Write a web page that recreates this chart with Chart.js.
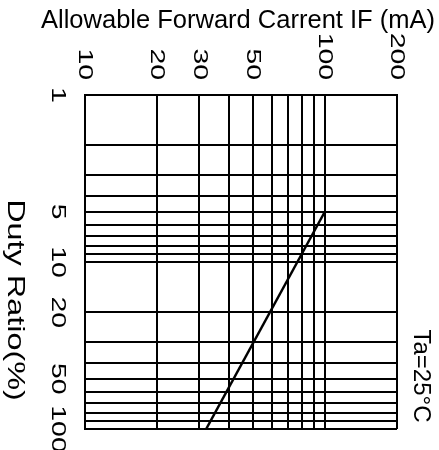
<!DOCTYPE html>
<html>
<head>
<meta charset="utf-8">
<script src="https://cdn.jsdelivr.net/npm/chart.js@4.4.1/dist/chart.umd.min.js"></script>
<style>
  html, body { margin: 0; padding: 0; background: #fff; }
  #wrap { width: 439px; height: 450px; }
</style>
</head>
<body>
<div id="wrap"><canvas id="chart"></canvas></div>
<script>
// axis labels
const currentLabels = [10, 20, 30, 50, 100, 200];
const dutyLabels = [1, 5, 10, 20, 50, 100];
// grid lines
const currentGrid = [10, 20, 30, 40, 50, 60, 70, 80, 90, 100, 200];
const dutyGrid = [1, 2, 3, 4, 5, 6, 7, 8, 9, 10, 20, 30, 40, 50, 60, 70, 80, 90, 100];
// the derating line
const lineCurrent = [100, 32];
const lineDuty = [5, 100];

const FONT = "'Liberation Sans', Arial, sans-serif";

// text turned 90deg clockwise, stretched a bit along its run like the scan
function rotText(ctx, text, x, y, align, stretch) {
  ctx.save();
  ctx.translate(x, y);
  ctx.rotate(Math.PI / 2);
  ctx.scale(stretch || 1, 1);
  ctx.textAlign = align;
  ctx.textBaseline = "middle";
  ctx.fillText(text, 0, 0);
  ctx.restore();
}

const textPlugin = {
  id: "texts",
  afterDraw(chart) {
    const ctx = chart.ctx;
    const xs = chart.scales.x, ys = chart.scales.y;
    ctx.save();
    ctx.fillStyle = "#000";
    ctx.font = "25.5px " + FONT;
    ctx.textAlign = "center";
    ctx.textBaseline = "alphabetic";
    ctx.fillText("Allowable Forward Carrent IF (mA)", 238, 28);

    ctx.font = "21px " + FONT;
    currentLabels.forEach((v) => rotText(ctx, String(v), xs.getPixelForValue(v), 80, "right", 1.35));
    dutyLabels.forEach((v) => rotText(ctx, String(v), 58, ys.getPixelForValue(v), "center", 1.35));

    ctx.font = "24px " + FONT;
    rotText(ctx, "Duty Ratio(%)", 15, 300, "center", 1.35);
    rotText(ctx, "Ta=25°C", 421, 376, "center");
    ctx.restore();
  },
};

const gridOpts = { color: "#000", lineWidth: 2, drawTicks: false };

new Chart(document.getElementById("chart"), {
  type: "line",
  data: {
    datasets: [{
      data: lineCurrent.map((c, i) => ({ x: c, y: lineDuty[i] })),
      borderColor: "#000",
      borderWidth: 2.5,
      pointRadius: 0,
      fill: false,
    }],
  },
  options: {
    responsive: true,
    maintainAspectRatio: false,
    animation: false,
    layout: { padding: { left: 85, top: 95, right: 42, bottom: 21 } },
    plugins: { legend: { display: false }, tooltip: { enabled: false } },
    scales: {
      x: {
        type: "logarithmic",
        position: "top",
        min: 10,
        max: 200,
        afterBuildTicks: (axis) => { axis.ticks = currentGrid.map((v) => ({ value: v })); },
        ticks: { display: false },
        grid: gridOpts,
        border: { color: "#000", width: 2 },
      },
      y: {
        type: "logarithmic",
        reverse: true,
        min: 1,
        max: 100,
        afterBuildTicks: (axis) => { axis.ticks = dutyGrid.map((v) => ({ value: v })); },
        ticks: { display: false },
        grid: gridOpts,
        border: { color: "#000", width: 2 },
      },
    },
  },
  plugins: [textPlugin],
});
</script>
</body>
</html>
